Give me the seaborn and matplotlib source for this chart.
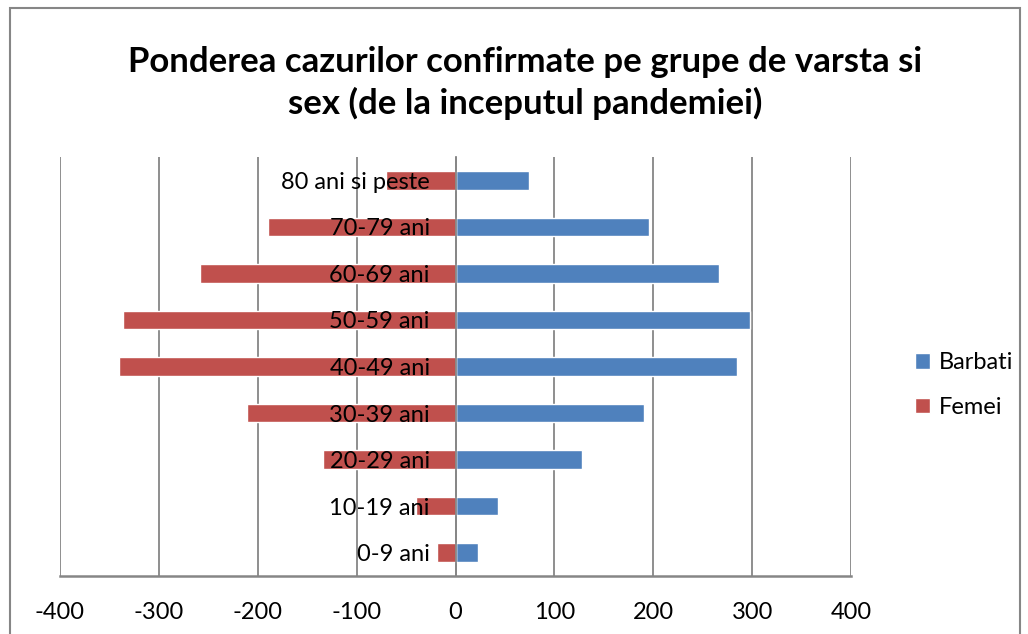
import matplotlib
matplotlib.use("Agg")
import matplotlib.pyplot as plt
from matplotlib.patches import Rectangle
from matplotlib.ticker import FixedLocator
import seaborn as sns
import pandas as pd

# date (de jos in sus: 0-9 ani ... 80 ani si peste)
grupe = ["0-9 ani", "10-19 ani", "20-29 ani", "30-39 ani", "40-49 ani",
         "50-59 ani", "60-69 ani", "70-79 ani", "80 ani si peste"]
barbati = [23, 43, 128, 191, 285, 298, 267, 196, 74]
femei = [-19, -40, -134, -211, -340, -336, -258, -190, -70]
serii = ["Barbati", "Femei"]
culori = ["#4F81BD", "#C0504D"]
titlu = "Ponderea cazurilor confirmate pe grupe de varsta si\nsex (de la inceputul pandemiei)"
x_ticks = [-400, -300, -200, -100, 0, 100, 200, 300, 400]

df = pd.DataFrame({
    "grupa": grupe * 2,
    "sex": ["Barbati"] * len(grupe) + ["Femei"] * len(grupe),
    "valoare": barbati + femei,
})

sns.set_style("white")
plt.rcParams["font.family"] = ["Lato", "DejaVu Sans"]
plt.rcParams["axes.unicode_minus"] = False
plt.rcParams["text.color"] = "black"

GRI = "#868686"

fig = plt.figure(figsize=(10.28, 6.34), dpi=100)
ax = fig.add_axes([60 / 1028, 58 / 634, (851 - 60) / 1028, (576 - 157) / 634])

sns.barplot(data=df, y="grupa", x="valoare", hue="sex", order=grupe[::-1],
            hue_order=serii, palette=culori, dodge=False, width=0.4,
            orient="h", saturation=1, ax=ax, legend=True)

ax.set_xlim(x_ticks[0], x_ticks[-1])
ax.set_ylim(len(grupe) - 0.5, -0.5)
ax.set_xticks(x_ticks)
ax.set_xticklabels([str(v) for v in x_ticks])
ax.set_xlabel("")
ax.set_ylabel("")

# grila verticala sub bare, etichetele categoriilor peste bare
ax.set_axisbelow(True)
ax.xaxis.grid(True, color=GRI, linewidth=1.3)
ax.yaxis.grid(False)
ax.yaxis.set_zorder(5)

for s in ["top", "right"]:
    ax.spines[s].set_visible(False)
ax.spines["left"].set_position(("data", 0))
ax.spines["left"].set_color(GRI)
ax.spines["left"].set_linewidth(1.3)
ax.spines["bottom"].set_color(GRI)
ax.spines["bottom"].set_linewidth(1.8)

ax.yaxis.set_minor_locator(FixedLocator([i - 0.5 for i in range(len(grupe) + 1)]))
ax.tick_params(axis="y", which="major", length=0, pad=18.5, labelsize=17, labelcolor="black")
ax.tick_params(axis="y", which="minor", length=6.5, width=1.3, color=GRI, direction="out")
ax.tick_params(axis="x", which="major", length=6.5, width=1.3, color=GRI,
               direction="out", pad=12, labelsize=17, labelcolor="black")

fig.text(525 / 1028, 1 - 83 / 634, titlu, ha="center", va="center", color="black",
         fontsize=25, fontweight="bold", linespacing=1.3)

handles, labels = ax.get_legend_handles_labels()
leg = ax.legend(handles, labels, loc="center left", bbox_to_anchor=(915 / 1028, 1 - 385 / 634),
                bbox_transform=fig.transFigure, frameon=False, fontsize=17,
                handlelength=0.65, handleheight=0.65, handletextpad=0.35,
                labelspacing=1.0, borderpad=0, borderaxespad=0)
for t in leg.get_texts():
    t.set_color("black")

fig.add_artist(Rectangle((10 / 1028, -0.05), 1010 / 1028, 1.05 - 8 / 634,
                         transform=fig.transFigure, fill=False,
                         edgecolor=GRI, linewidth=1.5))

fig.savefig("out.png", dpi=100)
plt.close(fig)
